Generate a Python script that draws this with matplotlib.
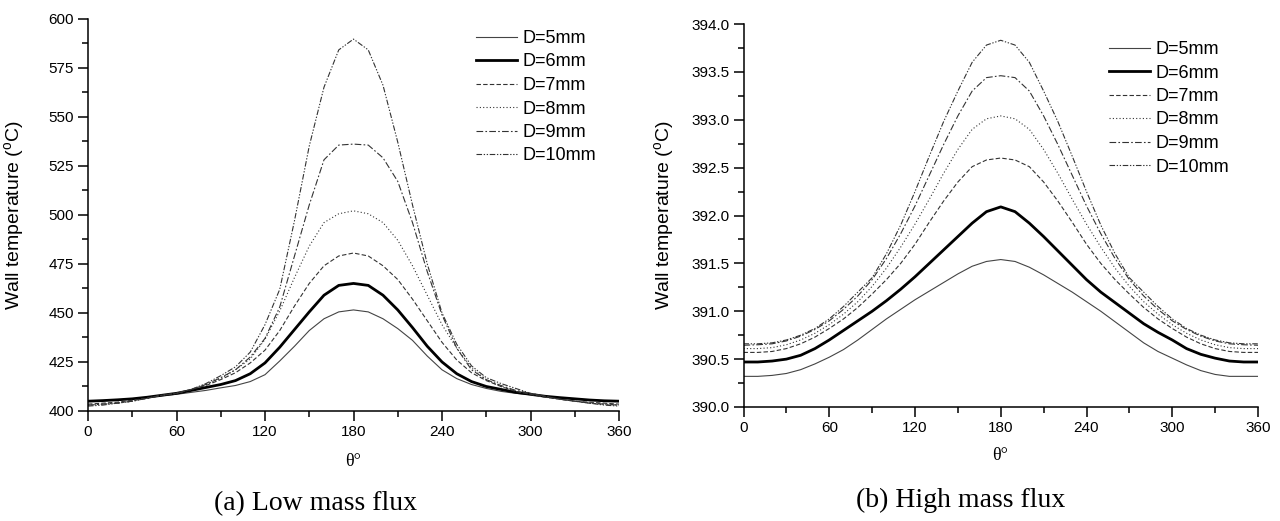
import matplotlib
matplotlib.use("Agg")
import matplotlib.pyplot as plt
from matplotlib.ticker import MultipleLocator, FormatStrFormatter

plt.rcParams['font.family'] = ['Liberation Sans', 'DejaVu Sans']
plt.rcParams['mathtext.fontset'] = 'custom'
plt.rcParams['mathtext.rm'] = 'Liberation Sans'

# angle around the tube wall, degrees
theta = list(range(0, 361, 10))
labels = ['D=5mm', 'D=6mm', 'D=7mm', 'D=8mm', 'D=9mm', 'D=10mm']

# (a) low mass flux, wall temperature in C
low_d5 = [405, 405.3, 405.7, 406.2, 407, 407.8, 408.5, 409.5, 410.5, 411.8, 413, 415, 418.5,
          425.5, 433, 441, 447, 450.5, 451.5, 450.5, 447, 442, 436, 428, 421, 416.5, 413.5,
          411.5, 410, 409, 408.3, 407.5, 406.8, 406.2, 405.6, 405.2, 405]
low_d6 = [405, 405.3, 405.7, 406.2, 407, 408, 409, 410.5, 412, 413.5, 415.5, 419, 424.5,
          432.5, 441.5, 450.5, 459, 464, 465, 464, 459, 451.5, 442.5, 433, 425, 419, 415,
          412.5, 411, 409.5, 408.5, 407.5, 406.8, 406.2, 405.6, 405.2, 405]
low_d7 = [403.5, 404, 404.5, 405.5, 406.5, 408, 409, 411, 413, 416, 419.5, 424.5, 431,
          441, 453.5, 465, 474, 479, 480.5, 479, 474, 467, 457, 446, 435, 426, 419.5,
          415.5, 412.5, 410, 408.5, 407, 406, 405, 404.5, 404, 403.5]
low_d8 = [403, 403.5, 404, 405, 406.5, 408, 409, 411, 413.5, 416.5, 421, 426.5, 436.5,
          451, 468, 484, 496, 500.5, 502, 500.5, 496, 487, 474, 459, 444, 432, 422,
          416, 412.5, 410, 408.5, 407, 406, 405, 404, 403.5, 403]
low_d9 = [403, 403.5, 404, 405, 406.5, 408, 409, 411, 413.5, 417, 421, 427.5, 437,
          453, 479, 505, 528, 535.5, 536, 535.5, 529, 517, 496, 471, 449, 432, 421,
          416, 413, 410.5, 409, 407.5, 406, 405, 404, 403.5, 403]
low_d10 = [402.5, 403, 404, 405, 406.5, 408, 409, 411, 414, 418, 422.5, 430, 444,
           462, 497, 535, 565, 584, 589.5, 584, 566, 537, 505, 475, 450, 434, 423,
           417, 414, 411.5, 409, 407.5, 406, 405, 404, 403, 402.5]

# (b) high mass flux
high_d5 = [390.32, 390.32, 390.33, 390.35, 390.39, 390.45, 390.52, 390.6, 390.7, 390.81,
           390.92, 391.02, 391.12, 391.21, 391.3, 391.39, 391.47, 391.52, 391.54, 391.52,
           391.46, 391.38, 391.29, 391.2, 391.1, 391.0, 390.89, 390.78, 390.67, 390.58,
           390.51, 390.44, 390.38, 390.34, 390.32, 390.32, 390.32]
high_d6 = [390.47, 390.47, 390.48, 390.5, 390.54, 390.61, 390.7, 390.8, 390.9, 391.0,
           391.11, 391.23, 391.36, 391.5, 391.64, 391.78, 391.92, 392.04, 392.09, 392.04,
           391.92, 391.78, 391.63, 391.48, 391.33, 391.2, 391.09, 390.98, 390.87, 390.78,
           390.7, 390.61, 390.55, 390.51, 390.48, 390.47, 390.47]
high_d7 = [390.57, 390.57, 390.58, 390.61, 390.66, 390.73, 390.82, 390.92, 391.04, 391.18,
           391.33, 391.5, 391.7, 391.93, 392.15, 392.35, 392.51, 392.58, 392.6, 392.58,
           392.51, 392.35, 392.15, 391.93, 391.7, 391.5, 391.33, 391.18, 391.04, 390.92,
           390.82, 390.73, 390.66, 390.61, 390.58, 390.57, 390.57]
high_d8 = [390.61, 390.61, 390.62, 390.65, 390.7, 390.77, 390.86, 390.97, 391.1, 391.26,
           391.45, 391.67, 391.91, 392.17, 392.44, 392.69, 392.9, 393.01, 393.04, 393.01,
           392.9, 392.69, 392.44, 392.17, 391.91, 391.67, 391.45, 391.26, 391.1, 390.97,
           390.86, 390.77, 390.7, 390.65, 390.62, 390.61, 390.61]
high_d9 = [390.645, 390.65, 390.66, 390.69, 390.74, 390.81, 390.9, 391.02, 391.16, 391.33,
           391.55, 391.81, 392.1, 392.42, 392.74, 393.04, 393.3, 393.44, 393.46, 393.44,
           393.3, 393.04, 392.74, 392.42, 392.1, 391.81, 391.55, 391.33, 391.16, 391.02,
           390.9, 390.81, 390.74, 390.69, 390.66, 390.65, 390.645]
high_d10 = [390.66, 390.66, 390.67, 390.7, 390.75, 390.82, 390.92, 391.05, 391.2, 391.35,
            391.6, 391.9, 392.25, 392.62, 392.98, 393.3, 393.6, 393.78, 393.83, 393.78,
            393.6, 393.3, 392.98, 392.62, 392.25, 391.9, 391.6, 391.35, 391.2, 391.05,
            390.92, 390.82, 390.75, 390.7, 390.67, 390.66, 390.66]

low_series = [low_d5, low_d6, low_d7, low_d8, low_d9, low_d10]
high_series = [high_d5, high_d6, high_d7, high_d8, high_d9, high_d10]

# line look for each diameter
styles = [
    dict(color='#444444', lw=0.8, ls='-'),
    dict(color='black', lw=2.0, ls='-'),
    dict(color='#333333', lw=0.8, ls=(0, (4, 2))),
    dict(color='#333333', lw=0.8, ls=(0, (1, 2))),
    dict(color='#333333', lw=0.8, ls=(0, (6, 2, 1.5, 2))),
    dict(color='#333333', lw=0.8, ls=(0, (5, 1.5, 1.2, 1.5, 1.2, 1.5))),
]

W, H = 1280, 521
fig = plt.figure(figsize=(W / 100, H / 100), dpi=100)


def axes_px(x0, x1, y0, y1):
    return fig.add_axes([x0 / W, 1 - y1 / H, (x1 - x0) / W, (y1 - y0) / H])


def style_axes(ax, ylim, ymaj, ymin, fmt):
    ax.set_xlim(0, 360)
    ax.set_ylim(*ylim)
    ax.xaxis.set_major_locator(MultipleLocator(60))
    ax.xaxis.set_minor_locator(MultipleLocator(30))
    ax.yaxis.set_major_locator(MultipleLocator(ymaj))
    ax.yaxis.set_minor_locator(MultipleLocator(ymin))
    ax.yaxis.set_major_formatter(FormatStrFormatter(fmt))
    for s in ['top', 'right']:
        ax.spines[s].set_visible(False)
    for s in ['left', 'bottom']:
        ax.spines[s].set_linewidth(1.1)
    ax.tick_params(which='major', direction='out', length=7, width=1.1,
                   labelsize=11, pad=3)
    ax.tick_params(which='minor', direction='out', length=4, width=1.1)


def add_lines(ax, series):
    for vals, lab, st in zip(series, labels, styles):
        ax.plot(theta, vals, label=lab, **st)


ax1 = axes_px(88, 619, 18.5, 411)
add_lines(ax1, low_series)
style_axes(ax1, (400, 600), 25, 12.5, '%d')

ax2 = axes_px(743.5, 1258, 24, 407)
add_lines(ax2, high_series)
style_axes(ax2, (390, 394), 0.5, 0.25, '%.1f')

leg_kw = dict(frameon=False, fontsize=13, loc='upper left', borderpad=0,
              borderaxespad=0, handlelength=2.27, handletextpad=0.33,
              labelspacing=0.36, bbox_transform=fig.transFigure)
ax1.legend(bbox_to_anchor=(476 / W, 1 - 30 / H), **leg_kw)
ax2.legend(bbox_to_anchor=(1109 / W, 1 - 41 / H), **leg_kw)

ylab = 'Wall temperature ($^{\\mathrm{o}}$C)'
fig.text(15 / W, 1 - 215 / H, ylab, rotation=90, ha='center', va='center', fontsize=14)
fig.text(665 / W, 1 - 215 / H, ylab, rotation=90, ha='center', va='center', fontsize=14)

fig.text(353.5 / W, 1 - 461 / H, 'θ°', ha='center', va='center', fontsize=13,
         family='Liberation Serif')
fig.text(1000.5 / W, 1 - 455 / H, 'θ°', ha='center', va='center', fontsize=13,
         family='Liberation Serif')

fig.text(315 / W, 1 - 504 / H, '(a) Low mass flux', ha='center', va='center',
         fontsize=20, family='Liberation Serif')
fig.text(961 / W, 1 - 500 / H, '(b) High mass flux', ha='center', va='center',
         fontsize=20, family='Liberation Serif')

fig.savefig('out.png', dpi=100)
